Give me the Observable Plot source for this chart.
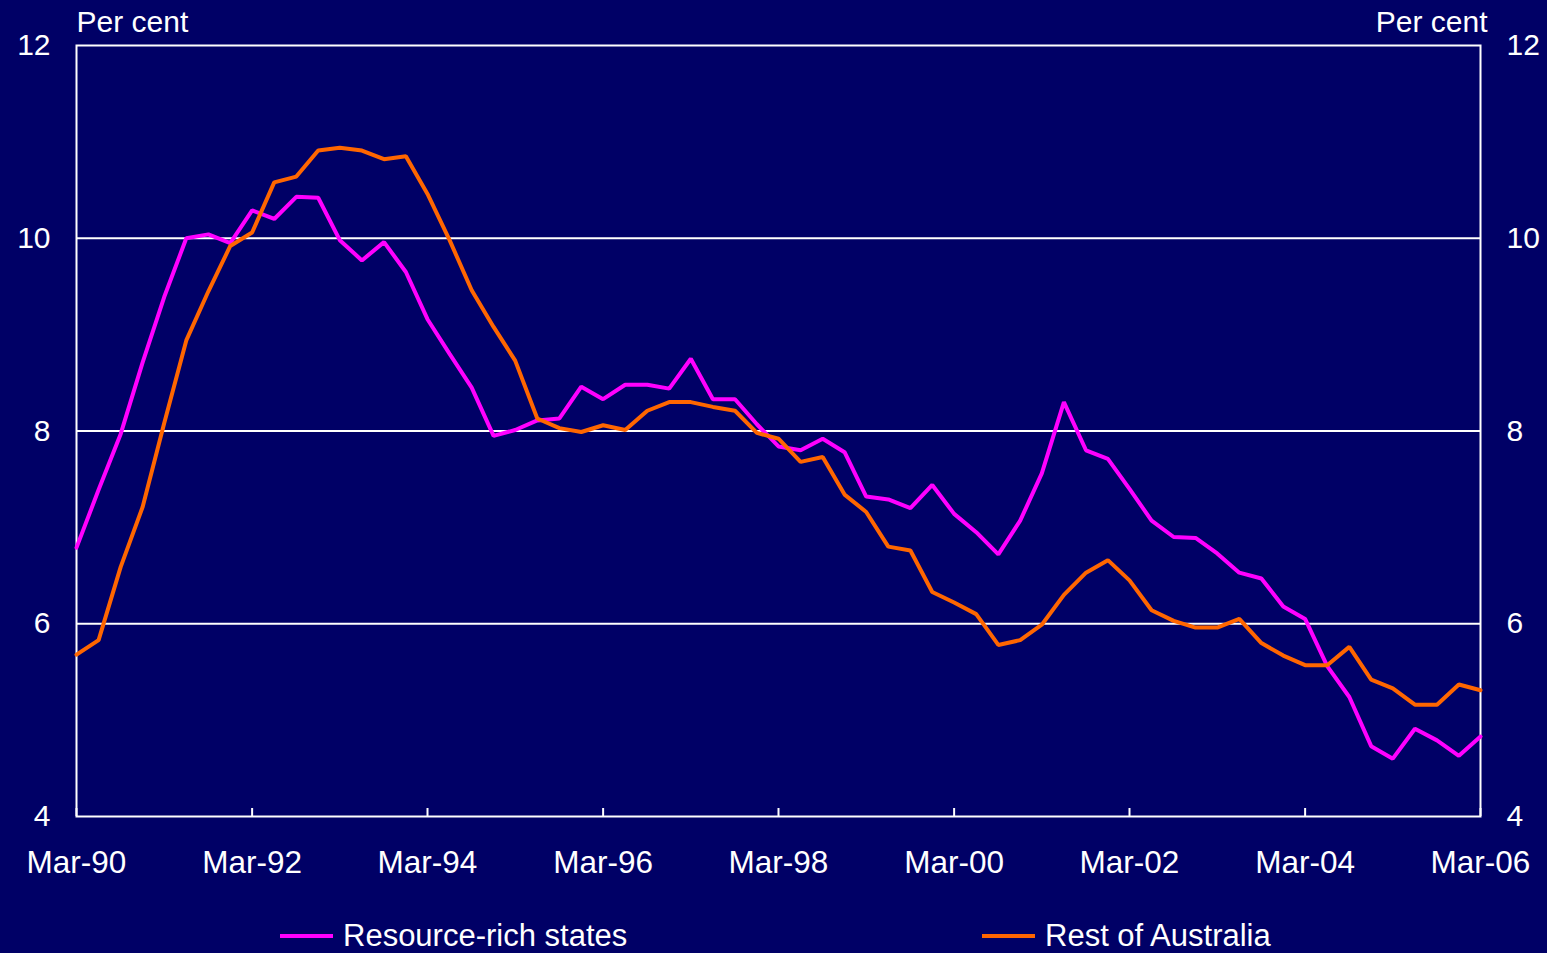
<!DOCTYPE html>
<html>
<head>
<meta charset="utf-8">
<script src="https://cdn.jsdelivr.net/npm/d3@7"></script>
<script src="https://cdn.jsdelivr.net/npm/@observablehq/plot@0.6"></script>
<style>
  html, body { margin: 0; padding: 0; background: #000066; }
  #wrap { position: relative; width: 1547px; height: 953px; overflow: hidden;
          font-family: "Liberation Sans", Arial, sans-serif; color: #fff; }
  #chart svg { display: block; }
  .swatch { position: absolute; height: 4px; width: 53px; top: 934px; }
  .label { position: absolute; top: 920px; font-size: 31px; line-height: 1; white-space: nowrap; }
</style>
</head>
<body>
<div id="wrap">
  <div id="chart"></div>
  <div id="legend"></div>
</div>
<script>
// Quarterly series, Mar-1990 to Mar-2006 (per cent)
const startQuarter = new Date(Date.UTC(1990, 2, 1));
const quarterCount = 65;

const resourceRich = [
  6.79, 7.39, 7.97, 8.71, 9.39, 10.00, 10.04, 9.95, 10.29, 10.20,
  10.43, 10.42, 9.98, 9.77, 9.96, 9.65, 9.16, 8.80, 8.45, 7.95,
  8.01, 8.11, 8.13, 8.46, 8.33, 8.48, 8.48, 8.44, 8.75, 8.33,
  8.33, 8.07, 7.84, 7.80, 7.92, 7.78, 7.32, 7.29, 7.20, 7.44,
  7.14, 6.95, 6.72, 7.07, 7.56, 8.30, 7.80, 7.71, 7.40, 7.07,
  6.90, 6.89, 6.73, 6.53, 6.47, 6.18, 6.05, 5.56, 5.24, 4.73,
  4.60, 4.91, 4.79, 4.63, 4.83
];

const restOfAustralia = [
  5.68, 5.83, 6.59, 7.21, 8.08, 8.94, 9.45, 9.92, 10.06, 10.58,
  10.64, 10.91, 10.94, 10.91, 10.82, 10.85, 10.46, 9.98, 9.46, 9.08,
  8.73, 8.13, 8.03, 7.99, 8.06, 8.01, 8.21, 8.30, 8.30, 8.25,
  8.21, 7.98, 7.92, 7.68, 7.73, 7.34, 7.16, 6.80, 6.76, 6.33,
  6.22, 6.10, 5.78, 5.83, 5.99, 6.30, 6.53, 6.66, 6.45, 6.14,
  6.03, 5.96, 5.96, 6.05, 5.80, 5.67, 5.57, 5.57, 5.76, 5.42,
  5.33, 5.16, 5.16, 5.37, 5.31
];

const seriesNames = ["Resource-rich states", "Rest of Australia"];
const seriesColors = ["#ff00ff", "#ff6600"];
const yTicks = [4, 6, 8, 10, 12];
const gridValues = [6, 8, 10];
const xTickLabels = ["Mar-90", "Mar-92", "Mar-94", "Mar-96", "Mar-98", "Mar-00", "Mar-02", "Mar-04", "Mar-06"];
const unitLabel = "Per cent";

const quarters = d3.range(quarterCount).map(i => d3.utcMonth.offset(startQuarter, 3 * i));
const xTicks = xTickLabels.map(s => d3.utcParse("%b-%y")(s));

const rows = [
  ...quarters.map((date, i) => ({date, value: resourceRich[i], series: seriesNames[0]})),
  ...quarters.map((date, i) => ({date, value: restOfAustralia[i], series: seriesNames[1]}))
];

const font = "Liberation Sans, Arial, sans-serif";
const W = 1547, H = 900;
const mTop = 45, mBottom = 84;

const chart = Plot.plot({
  width: W,
  height: H,
  marginLeft: 76,
  marginRight: 67,
  marginTop: mTop,
  marginBottom: mBottom,
  style: {background: "transparent", color: "#ffffff", fontFamily: font, fontSize: "30px", overflow: "visible"},
  x: {type: "utc", domain: [quarters[0], quarters[quarterCount - 1]]},
  y: {domain: [4, 12]},
  color: {domain: seriesNames, range: seriesColors},
  marks: [
    Plot.ruleY(gridValues, {stroke: "#ffffff", strokeWidth: 2}),
    Plot.frame({stroke: "#ffffff", strokeWidth: 2}),
    // short inward tick marks along the bottom edge
    Plot.ruleX(xTicks, {x: d => d, stroke: "#ffffff", strokeWidth: 2, insetTop: (H - mTop - mBottom) - 8}),
    Plot.axisX(xTicks, {anchor: "bottom", tickSize: 0, tickPadding: 34, tickFormat: (d, i) => xTickLabels[i], fontSize: 31.5, label: null}),
    Plot.axisY(yTicks, {anchor: "left", tickSize: 0, tickPadding: 26, tickFormat: d => String(d), fontSize: 30, label: null}),
    Plot.axisY(yTicks, {anchor: "right", tickSize: 0, tickPadding: 26, tickFormat: d => String(d), fontSize: 30, label: null}),
    Plot.line(rows, {x: "date", y: "value", z: "series", stroke: "series", strokeWidth: 4, strokeLinejoin: "miter"}),
    Plot.text([unitLabel], {frameAnchor: "top-left", lineAnchor: "middle", textAnchor: "start", dy: -23, fill: "#ffffff", fontSize: 30}),
    Plot.text([unitLabel], {frameAnchor: "top-right", lineAnchor: "middle", textAnchor: "end", dx: 7, dy: -23, fill: "#ffffff", fontSize: 30})
  ]
});
document.getElementById("chart").appendChild(chart);

// Legend below the chart
const legend = document.getElementById("legend");
const legendPos = [{swatch: 280, text: 343}, {swatch: 982, text: 1045}];
seriesNames.forEach((name, i) => {
  const sw = document.createElement("div");
  sw.className = "swatch";
  sw.style.left = legendPos[i].swatch + "px";
  sw.style.background = seriesColors[i];
  legend.appendChild(sw);
  const lb = document.createElement("div");
  lb.className = "label";
  lb.style.left = legendPos[i].text + "px";
  lb.textContent = name;
  legend.appendChild(lb);
});
</script>
</body>
</html>
